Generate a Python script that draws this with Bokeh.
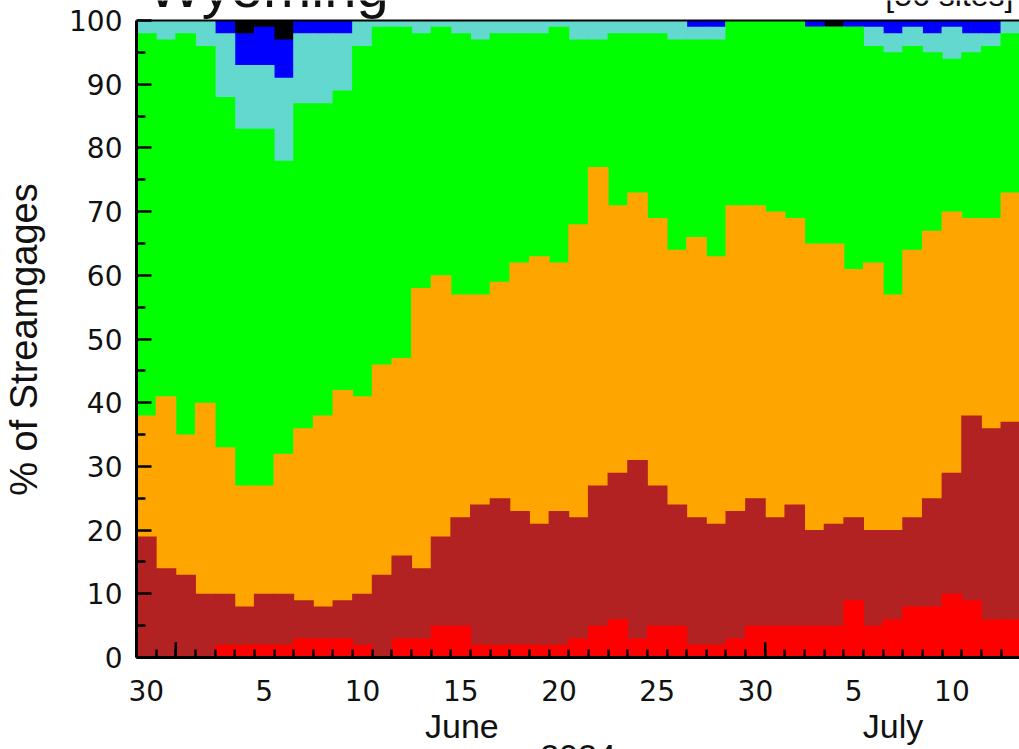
import numpy as np
from bokeh.plotting import figure
from bokeh.models import (FixedTicker, Range1d, ColumnDataSource, LinearAxis, Span,
                          GlobalInlineStyleSheet)
from bokeh.embed import file_html
from bokeh.resources import INLINE
from bokeh.core.properties import value

# Day index: 0 = May 30, 2024 ... 44 = July 13, 2024
day = list(range(45))

# Percent of streamgages in each flow class (bottom to top)
pct_low = [0, 0, 0, 0, 2, 2, 2, 2, 3, 3, 3, 2, 0, 3, 3, 5, 5, 2, 2, 2, 2, 2, 3, 5, 6,
           3, 5, 5, 2, 2, 3, 5, 5, 5, 5, 5, 9, 5, 6, 8, 8, 10, 9, 6, 6]
pct_much_below = [19, 14, 13, 10, 8, 6, 8, 8, 6, 5, 6, 8, 13, 13, 11, 14, 17, 22, 23, 21, 19, 21, 19, 22, 23,
                  28, 22, 19, 20, 19, 20, 20, 17, 19, 15, 16, 13, 15, 14, 14, 17, 19, 29, 30, 31]
pct_below = [19, 27, 22, 30, 23, 19, 17, 22, 27, 30, 33, 31, 33, 31, 44, 41, 35, 33, 34, 39, 42, 39, 46, 50, 42,
             42, 42, 40, 44, 42, 48, 46, 48, 45, 45, 44, 39, 42, 37, 42, 42, 41, 31, 33, 36]
pct_normal = [60, 56, 63, 56, 55, 56, 56, 46, 51, 49, 47, 55, 53, 52, 40, 39, 41, 40, 39, 36, 35, 37, 29, 20, 27,
              25, 29, 33, 31, 34, 29, 29, 30, 31, 34, 34, 38, 34, 38, 32, 28, 24, 26, 27, 25]
pct_above = [2, 3, 2, 4, 10, 10, 10, 13, 11, 11, 9, 4, 1, 1, 2, 1, 2, 3, 2, 2, 2, 1, 3, 3, 2,
             2, 2, 3, 2, 2, 0, 0, 0, 0, 0, 0, 0, 3, 3, 3, 3, 5, 3, 2, 2]
pct_much_above = [0, 0, 0, 0, 2, 5, 6, 6, 2, 2, 2, 0, 0, 0, 0, 0, 0, 0, 0, 0, 0, 0, 0, 0, 0,
                  0, 0, 0, 1, 1, 0, 0, 0, 0, 1, 0, 1, 1, 2, 1, 2, 1, 2, 2, 0]
pct_high = [0, 0, 0, 0, 0, 2, 1, 3, 0, 0, 0, 0, 0, 0, 0, 0, 0, 0, 0, 0, 0, 0, 0, 0, 0,
            0, 0, 0, 0, 0, 0, 0, 0, 0, 0, 1, 0, 0, 0, 0, 0, 0, 0, 0, 0]

class_colors = ["#FF0000", "#B22222", "#FFA500", "#00FF00", "#62D8CE", "#0000FF", "#000000"]

tick_pos = [0, 6, 11, 16, 21, 26, 31, 36, 41]
tick_labels = ["30", "5", "10", "15", "20", "25", "30", "5", "10"]
y_ticks = [0, 10, 20, 30, 40, 50, 60, 70, 80, 90, 100]
y_minor_ticks = [5, 15, 25, 35, 45, 55, 65, 75, 85, 95]
month_starts = [1.5, 31.5]
months = ["June", "July"]
month_label_x = [16.06, 38.0]
year_label = "2024"
title_text = "Wyoming"
sites_text = "[56 sites]"
y_title = "% of Streamgages"

layers = np.array([pct_low, pct_much_below, pct_below, pct_normal,
                   pct_above, pct_much_above, pct_high], dtype=float)
cum = np.cumsum(layers, axis=0)
data = {"day": day}
for k in range(len(layers)):
    data[f"c{k}"] = cum[k]
src = ColumnDataSource(data)

EXTRA_BOTTOM = 40   # canvas below the window (year label is cut off there)

page_css = GlobalInlineStyleSheet(css="html, body { overflow: hidden !important; margin: 0; }")

# frame runs from the very top of the window down to the 0 line; 100 % sits 20 px below the top
p = figure(width=1019, height=749 + EXTRA_BOTTOM, x_range=Range1d(-0.5, 44.44),
           y_range=Range1d(0, 103.14),
           output_backend="svg", toolbar_location=None, title=None,
           min_border_left=136, min_border_right=0, min_border_top=0,
           min_border_bottom=92 + EXTRA_BOTTOM)
p.stylesheets = [page_css]
p.xgrid.visible = False
p.ygrid.visible = False
p.outline_line_color = None
p.background_fill_color = "white"
p.border_fill_color = "white"

for k in reversed(range(len(layers))):
    p.vbar(x="day", width=1.05, bottom=0, top=f"c{k}", source=src,
           fill_color=class_colors[k], line_color=None)

# top border of the plotting box
p.add_layout(Span(location=100, dimension="width", line_color="black", line_width=2))

# month start ticks (taller)
p.segment(x0=month_starts, y0=[0] * len(month_starts), x1=month_starts,
          y1=[2.4] * len(month_starts), line_color="black", line_width=2.5)

# cut-off title line above the box
p.text(x=[0.06], y=[105.35], text=[title_text], text_font=value("Liberation Sans"),
       text_font_size="58px", text_align="left", text_baseline="middle", text_color="#111111")
p.text(x=[44.13], y=[103.94], text=[sites_text], text_font=value("Liberation Sans"),
       text_font_size="32px", text_align="right", text_baseline="middle", text_color="#111111")

xa = p.xaxis[0]
xa.ticker = FixedTicker(ticks=tick_pos, minor_ticks=[d - 0.5 for d in day] + [day[-1] + 0.5])
xa.major_label_overrides = {t: l for t, l in zip(tick_pos, tick_labels)}
xa.major_tick_in = 0
xa.major_tick_out = 0
xa.minor_tick_in = 8
xa.minor_tick_out = 0
xa.minor_tick_line_width = 2.5
xa.minor_tick_line_color = "black"
xa.axis_line_width = 3
xa.axis_line_color = "black"
xa.major_label_text_font = "DejaVu Sans"
xa.major_label_text_font_size = "28px"
xa.major_label_text_color = "#111111"
xa.major_label_standoff = 22

xa2 = LinearAxis(ticker=FixedTicker(ticks=month_label_x),
                 major_label_overrides={t: m for t, m in zip(month_label_x, months)})
xa2.axis_line_color = None
xa2.major_tick_line_color = None
xa2.minor_tick_line_color = None
xa2.major_tick_out = 0
xa2.major_tick_in = 0
xa2.major_label_standoff = 3
xa2.major_label_text_font = "Liberation Sans"
xa2.major_label_text_font_size = "34px"
xa2.major_label_text_color = "#111111"
xa2.axis_label = year_label
xa2.axis_label_text_font = "Liberation Sans"
xa2.axis_label_text_font_size = "34px"
xa2.axis_label_text_font_style = "normal"
xa2.axis_label_text_color = "#111111"
xa2.axis_label_standoff = -3
p.add_layout(xa2, "below")

ya = p.yaxis[0]
ya.bounds = (0, 100)
ya.ticker = FixedTicker(ticks=y_ticks, minor_ticks=y_minor_ticks)
ya.major_tick_in = 15
ya.major_tick_out = 0
ya.minor_tick_in = 9
ya.minor_tick_out = 0
ya.major_tick_line_width = 2.5
ya.minor_tick_line_width = 2.5
ya.axis_line_width = 3
ya.axis_line_color = "black"
ya.major_label_text_font = "DejaVu Sans"
ya.major_label_text_font_size = "28px"
ya.major_label_text_color = "#111111"
ya.major_label_standoff = 14
ya.axis_label = y_title + "\u00a0\u00a0"
ya.axis_label_text_font = "Liberation Sans"
ya.axis_label_text_font_size = "38px"
ya.axis_label_text_font_style = "normal"
ya.axis_label_text_color = "#111111"
ya.axis_label_standoff = 21

open("out.html", "w").write(file_html(p, INLINE))
